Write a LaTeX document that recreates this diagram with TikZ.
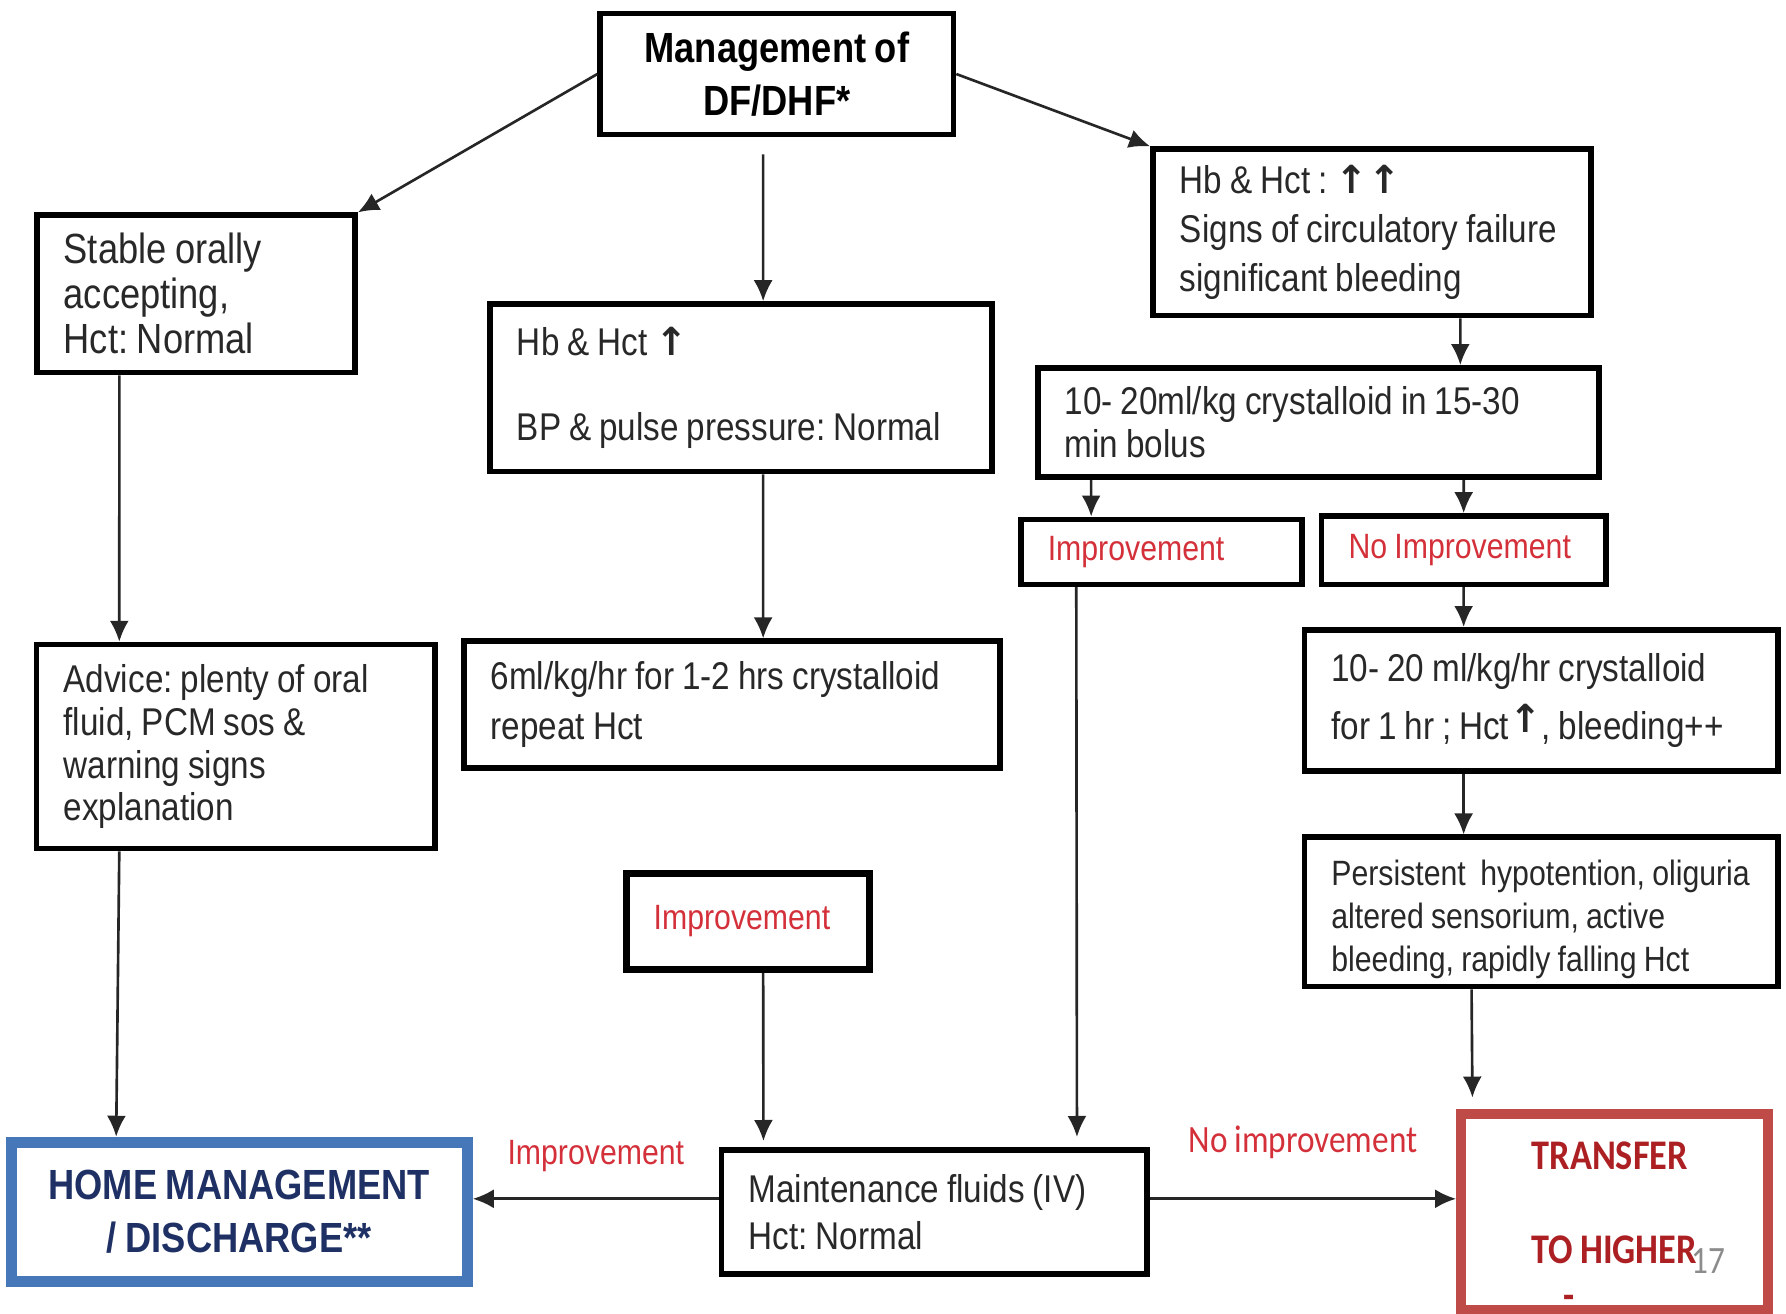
\documentclass[tikz,border=0pt]{standalone}
\usepackage{fontspec}
\setmainfont{Liberation Sans}[FakeStretch=0.86,WordSpace=0.86]
\newfontfamily\calibrifont{Carlito}[FakeStretch=0.86,WordSpace=0.86]
\newfontfamily\arrfont{DejaVu Sans}
\usetikzlibrary{positioning,arrows.meta}
\frenchspacing
\definecolor{txtgray}{RGB}{40,40,40}
\definecolor{labred}{RGB}{212,48,58}
\definecolor{homeblue}{RGB}{70,120,185}
\definecolor{hometext}{RGB}{30,48,100}
\definecolor{boxred}{RGB}{190,75,72}
\definecolor{transred}{RGB}{172,32,36}
\tikzstyle{block} = [rectangle, draw, line width=1.6pt, text=txtgray, align=flush left, inner xsep=0.27cm, inner ysep=0pt]
\tikzstyle{arrow} = [line width=0.75pt, draw=black!85, ->, >={Latex[length=2.1mm,width=1.9mm]}]
\tikzstyle{lab} = [text=labred, inner sep=0pt]
\newcommand{\up}{{\arrfont\bfseries ↑}}

\begin{document}
\begin{tikzpicture}[x=0.01139cm, y=-0.01139cm]
		\useasboundingbox (0,0) rectangle (1568,1153);
		
		% top
		\node (mgmt) [block, align=center, text=black, minimum width=3.531cm, minimum height=1.207cm, font=\bfseries\fontsize{12}{15}\selectfont] at (682,65) {Management of\\DF/DHF*};
		
		% left column
		\node (stable) [block, text width=2.642cm, minimum height=1.572cm, font=\fontsize{12}{12.8}\selectfont] at (172,258) {Stable orally\\accepting,\\Hct: Normal};
		\node (advice) [block, text width=3.44cm, minimum height=2.039cm, font=\fontsize{11}{12.2}\selectfont] at (207,655.5) {Advice: plenty of oral\\fluid, PCM sos \&\\warning signs\\explanation};
		\node (home) [block, draw=homeblue, line width=3.2pt, align=center, text=hometext, minimum width=4.556cm, minimum height=1.39cm, font=\bfseries\fontsize{12}{15}\selectfont] at (210,1064) {HOME MANAGEMENT\\/ DISCHARGE**};
		
		% middle column
		\node (hb) [block, text width=4.476cm, minimum height=1.674cm, font=\fontsize{11}{13}\selectfont] at (650.5,340.5) {Hb \& Hct \up\\[0.4cm]BP \& pulse pressure: Normal};
		\node (sixml) [block, text width=4.818cm, minimum height=1.264cm, font=\fontsize{11}{14.3}\selectfont] at (642.5,618.5) {6ml/kg/hr for 1-2 hrs crystalloid\\repeat Hct};
		\node (impM) [block, line width=2pt, text=labred, text width=1.891cm, minimum height=0.957cm, font=\fontsize{10}{12}\selectfont] at (657,809) {Improvement\\[0.2cm]};
		\node (maint) [block, text width=3.713cm, minimum height=1.241cm, font=\fontsize{11}{13.3}\selectfont, right of=home, node distance=6.948cm] {Maintenance fluids (IV)\\Hct: Normal};
		
		% right column
		\node (sig) [block, text width=3.838cm, minimum height=1.663cm, font=\fontsize{11}{14}\selectfont] at (1204.5,204) {Hb \& Hct : \up\up\\Signs of circulatory failure\\significant bleeding};
		\node (bolus) [block, text width=5.069cm, minimum height=1.093cm, font=\fontsize{11}{12.2}\selectfont] at (1157.5,371) {10- 20ml/kg crystalloid in 15-30\\min bolus};
		\node (impR) [block, text=labred, text width=2.267cm, minimum height=0.649cm, font=\fontsize{10}{12}\selectfont] at (1019.5,484.5) {Improvement};
		\node (noimp) [block, text=labred, text width=2.3cm, minimum height=0.683cm, font=\fontsize{10}{12}\selectfont] at (1285,483) {No Improvement};
		\node (crys) [block, text width=4.192cm, minimum height=1.412cm, font=\fontsize{11}{16.5}\selectfont] at (1353,615) {10- 20 ml/kg/hr crystalloid\\for 1 hr ; Hct\raisebox{0.35ex}{\up}, bleeding++};
		\node (persist) [block, text width=4.192cm, minimum height=1.492cm, font=\fontsize{10}{12.3}\selectfont, below of=crys, node distance=2.113cm] {\rule{0pt}{0.4cm}Persistent\ \ hypotention, oliguria\\altered sensorium, active\\bleeding, rapidly falling Hct};
		\node (transfer) [block, draw=boxred, line width=2.8pt, text=transred, minimum width=3.064cm, minimum height=1.959cm, font=\calibrifont\bfseries\fontsize{12}{13}\selectfont, right of=maint, node distance=6.794cm] {\rule{0pt}{0.55cm}TRANSFER\\[0.48cm]TO HIGHER\\\hspace*{0.32cm}-};
		\node (pagenum) [text=black!45, font=\calibrifont\fontsize{11}{13}\selectfont, inner sep=0pt] at (1500,1107) {17};
		
		% connectors
		\draw [arrow] (mgmt.west) -- (stable.north east);
		\draw [arrow] (mgmt.east) -- (sig.north west);
		\draw [arrow] ([xshift=-0.137cm,yshift=-0.171cm]mgmt.south) -- ([xshift=0.222cm]hb.north);
		\draw [arrow] ([xshift=0.854cm]stable.south west) -- ([xshift=0.854cm]advice.north west);
		\draw [arrow] ([xshift=0.854cm]advice.south west) -- ([xshift=1.105cm]home.north west);
		\draw [arrow] ([xshift=0.222cm]hb.south) -- ([xshift=0.313cm]sixml.north);
		\draw [arrow] ([xshift=0.883cm]sig.south) -- ([xshift=1.418cm]bolus.north);
		\draw [arrow] ([xshift=-2.272cm]bolus.south) -- ([xshift=-0.7cm]impR.north);
		\draw [arrow] ([xshift=1.452cm]bolus.south) -- (noimp.north);
		\draw [arrow] (noimp.south) -- ([xshift=-0.774cm]crys.north);
		\draw [arrow] ([xshift=-0.774cm]crys.south) -- ([xshift=-0.774cm]persist.north);
		\draw [arrow] ([xshift=-0.695cm]persist.south) -- ([xshift=-1.418cm,yshift=0.114cm]transfer.north);
		\draw [arrow] ([xshift=-0.849cm]impR.south) -- ([xshift=1.424cm,yshift=0.1cm]maint.north);
		\draw [arrow] ([xshift=0.148cm]impM.south) -- ([xshift=-1.709cm,yshift=0.06cm]maint.north);
		\draw [arrow] ([yshift=0.131cm]maint.west) -- node [lab, above=0.26cm, font=\fontsize{10}{12}\selectfont] {Improvement} ([yshift=0.131cm]home.east);
		\draw [arrow] ([yshift=0.131cm]maint.east) -- node [lab, above=0.39cm, font=\calibrifont\fontsize{11}{13}\selectfont] {No improvement} ([yshift=0.131cm]transfer.west);
		
	\end{tikzpicture}
\end{document}
